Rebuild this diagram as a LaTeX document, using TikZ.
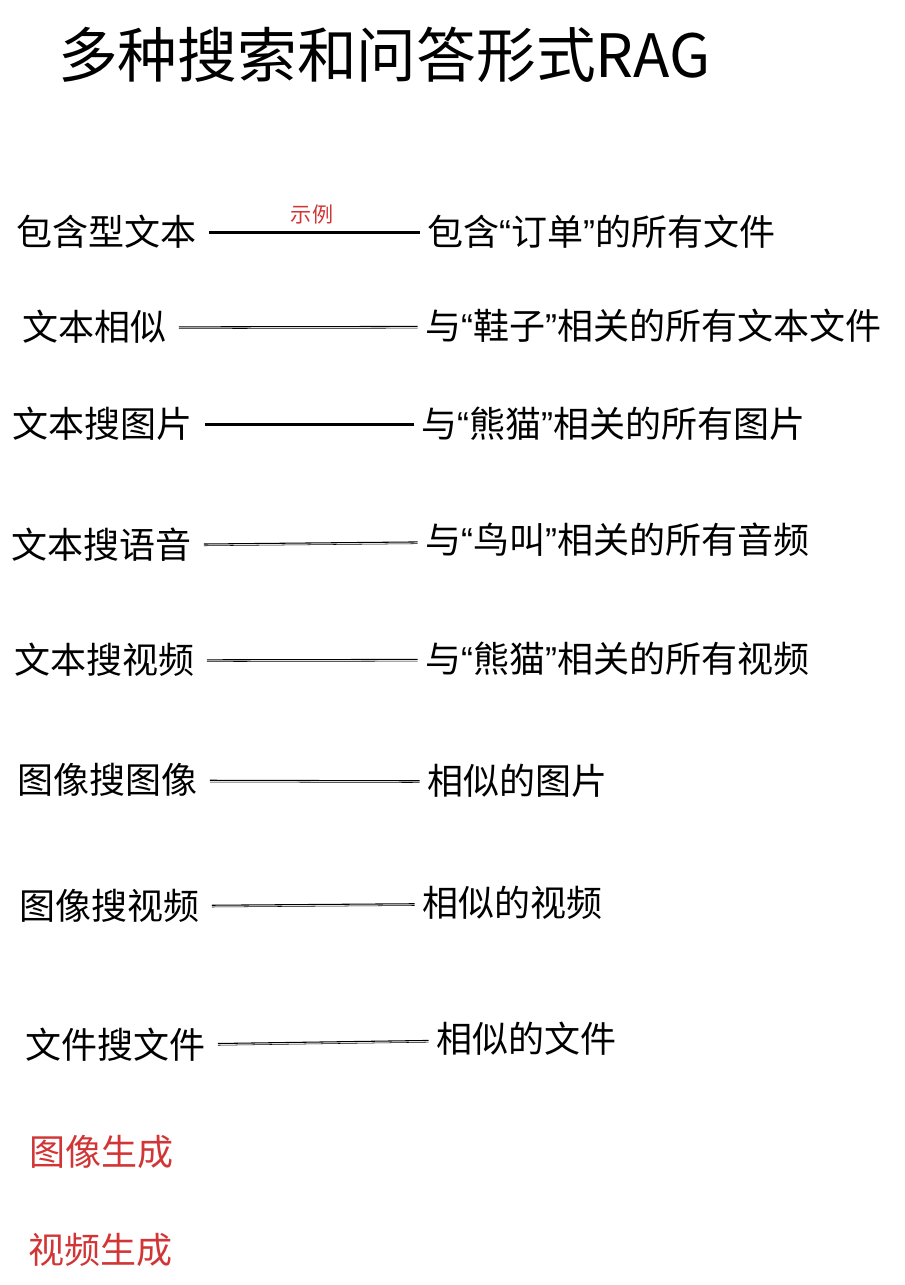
\documentclass[tikz,border=0pt]{standalone}
\usepackage{fontspec}
\setmainfont{Noto Sans CJK SC}
\newfontfamily\latinq{Liberation Sans}
\newcommand{\qo}{{\latinq “}}
\newcommand{\qc}{{\latinq ”}}
\usetikzlibrary{positioning}
\definecolor{tagred}{RGB}{209,53,53}
\tikzset{
	left/.style={anchor=west, inner sep=1pt, font=\fontsize{20.5}{22}\selectfont},
	right/.style={anchor=west, inner sep=1pt, font=\fontsize{20.5}{22}\selectfont},
	link/.style={line width=0.6pt, shorten <=6pt, shorten >=3pt},
}
\begin{document}
\begin{tikzpicture}[x=0.02cm,y=-0.02cm]
	\useasboundingbox (0,0) rectangle (904,1285);
	\node[anchor=west, font=\fontsize{34}{38}\selectfont] (title) at (52,55) {多种搜索和问答形式RAG};
	
	\foreach \name/\ly/\ry/\lx/\rx/\ltext/\rtext in {
		a/232/232/14/425/包含型文本/包含\qo 订单\qc 的所有文件,
		b/327/326/20/423/文本相似/与\qo 鞋子\qc 相关的所有文本文件,
		c/424/424/10/419/文本搜图片/与\qo 熊猫\qc 相关的所有图片,
		d/545/540/9/423/文本搜语音/与\qo 鸟叫\qc 相关的所有音频,
		e/660/659/12/423/文本搜视频/与\qo 熊猫\qc 相关的所有视频,
		f/780/781/15/425/图像搜图像/相似的图片,
		g/906/903/17/420/图像搜视频/相似的视频,
		h/1045/1039/23/434/文件搜文件/相似的文件}{
		\node[left] (\name l) at (\lx,\ly) {\ltext};
		\node[right] (\name r) at (\rx,\ry) {\rtext};
		\draw[link] (\name l) -- (\name r);
		\draw[link, line width=0.3pt, transform canvas={yshift=-1pt}] (\name l) -- (\name r);
	}
	\node[text=tagred, font=\fontsize{12}{14}\selectfont] (tag) at (312,215) {示例};
	
	\node[left, text=tagred] (imggen) at (27,1152) {图像生成};
	\node[left, text=tagred] (vidgen) at (26,1250) {视频生成};
\end{tikzpicture}
\end{document}
